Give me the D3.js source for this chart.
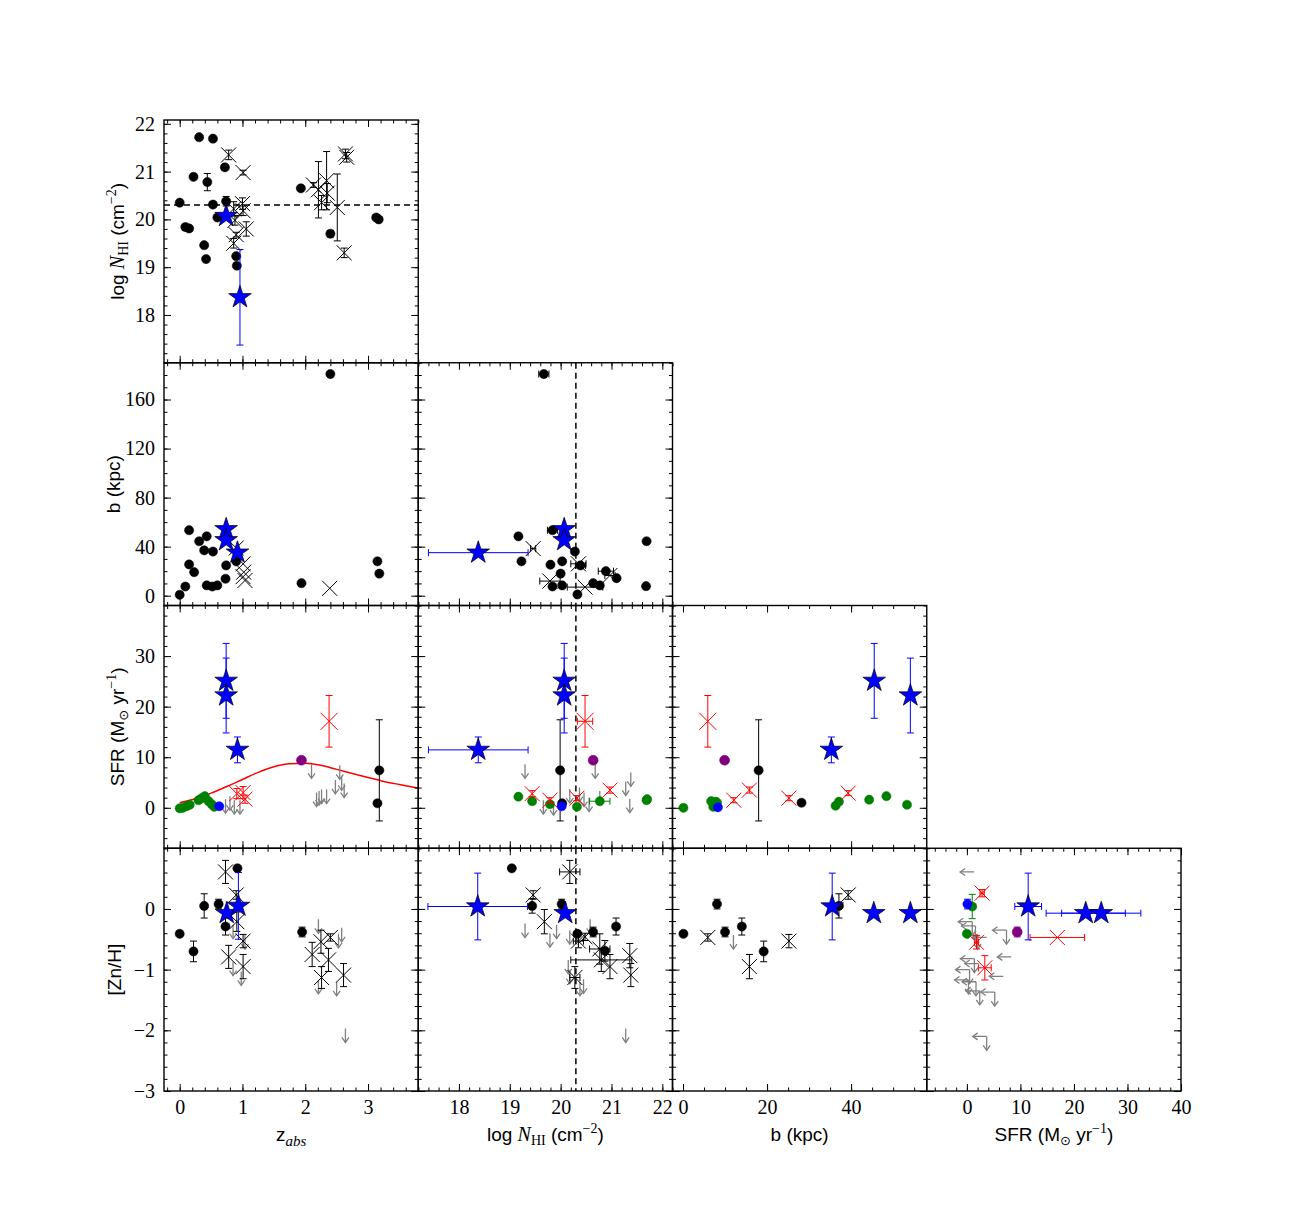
<!DOCTYPE html>
<html>
<head>
<meta charset="utf-8">
<script src="https://cdn.jsdelivr.net/npm/d3@7"></script>
<style>
  body { margin: 0; background: #fff; }
  .lab { font-family: "Liberation Sans", Arial, sans-serif; font-size: 19px; fill: #000; }
</style>
</head>
<body>
<script>
// ---- data ----
// point rows: [kind, x, y, xerr, yerr]
// kinds: k black dot, x black cross, s blue star, g green dot, p purple dot,
//        b blue dot, r red cross, d grey upper limit, l grey left limit, ld both
const pNhiZ = [
  ["k",0.00,20.35],["k",0.09,19.84],["k",0.15,19.81],["k",0.22,20.89],["k",0.31,21.72],
  ["k",0.53,21.69],["k",0.39,19.46],["k",0.42,19.17],["k",0.44,20.78,0,0.18],["k",0.53,20.31],
  ["k",0.60,20.04],["k",0.72,21.09,0,0.05],["k",0.74,20.38,0,0.1],["k",0.90,19.23],["k",0.91,19.03],
  ["k",1.93,20.65],["k",2.40,19.70,0,0.07],["k",3.13,20.04],["k",3.17,20.00,0,0.05],
  ["x",0.78,21.35,0,0.1],["x",1.01,20.98,0,0.05],["x",0.86,20.22,0,0.15],["x",1.00,20.33,0,0.12],
  ["x",1.01,20.18,0,0.1],["x",1.06,19.80,0,0.15],["x",0.88,19.98,0,0.1],["x",0.90,19.68,0,0.05],
  ["x",0.86,19.50,0,0.1],["x",2.13,20.72,0,0.05],["x",2.21,20.62,0,0.59],["x",2.26,20.35,0,0.15],
  ["x",2.34,20.81,0,0.61],["x",2.35,20.55,0,0.2],["x",2.51,20.25,0,0.7],["x",2.64,21.37,0,0.1],
  ["x",2.66,21.30,0,0.1],["x",2.62,19.30,0,0.1],
  ["s",0.74,20.07],["s",0.96,18.37,0,1.0]
];
const pBZ = [
  ["k",0.00,0.7],["k",0.09,7.5],["k",0.15,53.4],["k",0.15,25.5],["k",0.23,19.2],["k",0.31,44.4],
  ["k",0.39,37],["k",0.43,48.4],["k",0.43,8.4],["k",0.52,7.5],["k",0.60,8.4],["k",0.53,36],
  ["k",0.73,13.8],["k",0.74,24.7],["k",0.90,28],["k",2.40,180.8],["k",1.94,10.2],["k",3.15,28],["k",3.18,18],
  ["x",0.90,38.9],["x",1.01,26],["x",1.02,19.2],["x",1.01,15.5],["x",1.04,12.4],["x",2.39,6],
  ["s",0.74,54.2],["s",0.74,45.2],["s",0.92,35.1]
];
const pBNhi = [
  ["k",19.67,180.8,0.1,0],["k",19.17,48.4],["k",19.23,28],["k",19.84,53.4,0.1,0],["k",19.80,25.3],
  ["k",20.03,28],["k",20.00,18],["k",19.84,7.5],["k",20.03,8.4],["k",20.28,36],["k",20.33,1],
  ["k",20.39,24.7,0.1,0],["k",20.64,10.2],["k",20.77,8.4],["k",20.89,20,0.15,0],["k",21.10,14.3],
  ["k",21.69,44.4],["k",21.68,7.8],
  ["x",19.46,38.4,0.05,0],["x",20.35,26,0.15,0],["x",19.79,11.9,0.2,0],["x",20.48,7,0.35,0],["x",20.97,16.5,0.1,0],
  ["s",20.07,54.2],["s",20.07,45.2],["s",18.38,35.1,0.98,0]
];
const pSfrZ = [
  ["d",0.73,1.7],["d",0.80,2.3],["d",0.87,1.5],["d",0.96,1.5],["d",2.10,8.6],["d",2.18,3.0],
  ["d",2.22,3.3],["d",2.26,3.6],["d",2.34,3.6],["d",2.48,5.5],["d",2.55,8.4],["d",2.58,6.2],["d",2.62,4.8],
  ["g",0.00,-0.1],["g",0.05,0.0],["g",0.11,0.3],["g",0.16,0.6],["g",0.30,1.5],["g",0.35,1.9],
  ["g",0.40,2.3],["g",0.46,1.3],["g",0.51,0.7],["g",0.55,0.2],
  ["b",0.63,0.3],
  ["k",3.18,7.4,0,10],["k",3.15,0.9],
  ["r",0.91,2.8,0,1],["r",1.01,3.0,0,1.2],["r",1.04,1.7,0,0.8],["r",2.38,17.1,0,5.1],
  ["p",1.94,9.4],
  ["s",0.74,25.1,0,7.4],["s",0.74,22.2,0,7.4],["s",0.92,11.45,0,2.55]
];
const sfrCurveZ   = [0.0, 0.25, 0.5, 0.75, 1.0, 1.25, 1.5, 1.75, 2.0, 2.25, 2.5, 2.75, 3.0, 3.25, 3.5, 3.8];
const sfrCurveVal = [1.0, 1.8, 2.9, 4.2, 5.6, 7.0, 8.1, 8.7, 8.8, 8.4, 7.6, 6.8, 6.0, 5.2, 4.6, 3.9];
const pSfrNhi = [
  ["d",19.30,8.6],["d",19.66,1.5],["d",19.86,1.3],["d",20.18,3.7],["d",20.37,4.0],["d",20.46,3.0],
  ["d",20.56,2.0],["d",20.68,8.6],["d",20.77,3.3],["d",21.28,5.2],["d",21.38,7.0],["d",21.36,1.8],
  ["g",19.17,2.2],["g",19.44,1.3],["g",19.79,0.7],["g",20.32,0.2],["g",20.77,1.3,0.2,0],["g",21.69,1.5],["g",21.70,1.7],
  ["b",20.02,0.3],
  ["k",19.99,7.4,0.05,10],["k",20.03,0.9],
  ["r",19.44,2.8,0,0.6],["r",19.79,1.5,0,0.5],["r",20.32,1.9,0,0.5],["r",20.97,3.5,0,0.6],["r",20.48,17.1,0.15,5.1],
  ["p",20.64,9.4],
  ["s",20.07,25.1,0,7.4],["s",20.07,22.2,0,7.4],["s",18.38,11.45,0.98,2.55]
];
const pSfrB = [
  ["g",0.1,0.0],["g",6.7,1.3],["g",7.2,0.2],["g",7.8,1.2],["g",8.1,1.0],["g",36.3,0.4],
  ["g",37.1,1.2],["g",44.3,1.6],["g",48.4,2.3],["g",53.3,0.6],
  ["b",8.3,0.1],
  ["k",18.0,7.4,0,10],["k",28.2,1.0],
  ["r",12.1,1.5,0,0.5],["r",15.8,3.5,0,0.6],["r",25.2,1.9,0,0.5],["r",39.3,2.9,0,0.5],["r",5.9,17.1,0,5.1],
  ["p",9.9,9.4],
  ["s",45.5,25.1,0,7.4],["s",54.1,22.2,0,7.4],["s",35.3,11.45,0,2.55]
];
const pZnZ = [
  ["d",0.85,-0.26],["d",0.85,-0.87],["d",0.98,-1.03],["d",1.04,-0.43],["d",2.21,-0.17],["d",2.21,-1.17],
  ["d",2.53,-0.41],["d",2.58,-0.31],["d",2.50,-1.2],["d",2.64,-1.97],
  ["k",0.00,-0.41],["k",0.22,-0.70,0,0.17],["k",0.39,0.05,0,0.2],["k",0.62,0.08,0,0.08],
  ["k",0.73,-0.29,0,0.14],["k",0.92,0.67],["k",1.95,-0.38,0,0.08],
  ["x",0.73,0.61,0,0.19],["x",0.90,0.23,0,0.07],["x",0.91,-0.21,0,0.16],["x",0.78,-0.79,0,0.19],
  ["x",1.01,-0.53,0,0.11],["x",1.01,-0.95,0,0.2],["x",2.11,-0.75,0,0.2],["x",2.25,-0.54,0,0.19],
  ["x",2.40,-0.47,0,0.06],["x",2.37,-0.84,0,0.19],["x",2.26,-1.13,0,0.18],["x",2.61,-1.09,0,0.19],
  ["s",0.75,-0.07],["s",0.935,0.05,0,0.55]
];
const pZnNhi = [
  ["d",19.30,-0.24],["d",19.79,-0.40],["d",19.92,-0.26],["d",20.18,-0.35],["d",20.15,-0.84],
  ["d",20.18,-1.0],["d",20.38,-1.2],["d",20.45,-1.16],["d",20.58,-0.17],["d",21.28,-1.97],
  ["k",19.04,0.67],["k",19.44,0.05,0,0.12],["k",20.02,0.08,0,0.08],["k",20.33,-0.41],
  ["k",20.64,-0.38,0,0.08],["k",20.87,-0.69,0,0.17],["k",21.09,-0.29,0,0.14],
  ["x",20.18,0.61,0.2,0.19],["x",19.46,0.23,0,0.07],["x",19.68,-0.21,0,0.2],["x",20.35,-0.53,0.1,0.11],
  ["x",20.48,-0.46,0,0.06],["x",20.77,-0.66,0.2,0.25],["x",20.80,-0.84,0.6,0.19],["x",20.97,-0.95,0,0.2],
  ["x",21.36,-0.77,0,0.2],["x",21.38,-1.09,0,0.19],["x",20.28,-1.13,0.1,0.18],
  ["s",18.37,0.04,0.98,0.55],["s",20.09,-0.07]
];
const pZnB = [
  ["d",12.0,-0.43],
  ["k",0.1,-0.41],["k",8.1,0.08,0,0.08],["k",10.0,-0.38,0,0.08],["k",14.0,-0.29,0,0.14],
  ["k",19.2,-0.70,0,0.17],["k",37.1,0.05,0,0.2],
  ["x",5.9,-0.47,0,0.06],["x",15.8,-0.95,0,0.2],["x",25.2,-0.53,0,0.11],["x",39.3,0.23,0,0.07],
  ["s",35.5,0.04,0,0.55],["s",45.4,-0.07],["s",54.1,-0.07]
];
const pZnSfr = [
  ["l",1.35,0.61],["ld",1.0,-0.21],["ld",1.6,-0.28],["ld",2.0,-0.43],["l",3.7,-0.47],["ld",7.4,-0.35],
  ["l",8.3,-0.79],["ld",1.4,-0.82],["l",2.2,-0.9],["ld",0.5,-1.0],["ld",0.3,-1.17],["ld",1.7,-1.2],
  ["ld",2.4,-1.35],["ld",5.2,-1.37],["l",6.8,-1.11],["ld",3.7,-2.1],
  ["g",1.0,0.04,0,0.2],["g",0.0,-0.41],
  ["b",0.1,0.08,0,0.08],
  ["r",2.85,0.26,0.4,0.06],["r",1.8,-0.55,0.4,0.11],["r",3.35,-0.97,1.2,0.2],["r",16.9,-0.47,5.1,0],
  ["p",9.4,-0.38,0,0.08],
  ["s",11.45,0.04,2.5,0.55],["s",22.2,-0.07,7.4,0],["s",25.1,-0.07,7.4,0]
];

// axes
const xDomains = [[-0.25, 3.8], [17.2, 22.2], [-2.5, 58], [-7.5, 40]];
const yDomains = [[17, 22.08], [-8, 190], [-8, 40], [-3, 1]];
const xMajor = [[0, 1, 2, 3], [18, 19, 20, 21, 22], [0, 20, 40], [0, 10, 20, 30, 40]];
const yMajor = [[18, 19, 20, 21, 22], [0, 40, 80, 120, 160], [0, 10, 20, 30], [-3, -2, -1, 0]];
const xMinorStep = [0.2, 0.2, 5, 2];
const yMinorStep = [0.2, 10, 2, 0.2];
const dlaLimit = 20.3;

// ---- layout ----
const width = 1312, height = 1212;
const colEdges = [164, 418.25, 672.5, 926.75, 1181];
const rowEdges = [120, 362.75, 605.5, 848.25, 1091];
const yLabelX = [117, 113, 117, 114];
const xLabelY = 1141;
const tickFont = '"Liberation Serif", "DejaVu Serif", serif';

const colorOf = { k: "#000", x: "#000", s: "#0000ff", g: "#008000", p: "#800080",
                  b: "#0000ff", r: "#ff0000", d: "#808080", l: "#808080", ld: "#808080" };
const drawOrder = ["d", "l", "ld", "g", "k", "x", "r", "p", "b", "s"];

const svg = d3.select("body").append("svg")
  .attr("width", width).attr("height", height)
  .style("display", "block");

const xScales = xDomains.map((d, i) => d3.scaleLinear().domain(d).range([colEdges[i], colEdges[i + 1]]));
const yScales = yDomains.map((d, i) => d3.scaleLinear().domain(d).range([rowEdges[i + 1], rowEdges[i]]));

function minorTicks(domain, step) {
  const lo = Math.ceil(domain[0] / step - 1e-9), hi = Math.floor(domain[1] / step + 1e-9);
  return d3.range(lo, hi + 1).map(k => +(k * step).toFixed(6));
}

const panels = [
  { row: 0, col: 0, pts: pNhiZ, hline: dlaLimit },
  { row: 1, col: 0, pts: pBZ },
  { row: 1, col: 1, pts: pBNhi, vline: dlaLimit },
  { row: 2, col: 0, pts: pSfrZ, curve: true },
  { row: 2, col: 1, pts: pSfrNhi, vline: dlaLimit },
  { row: 2, col: 2, pts: pSfrB },
  { row: 3, col: 0, pts: pZnZ },
  { row: 3, col: 1, pts: pZnNhi, vline: dlaLimit },
  { row: 3, col: 2, pts: pZnB },
  { row: 3, col: 3, pts: pZnSfr }
];

const fmt = d3.format("d");

function errBar(g, x1, y1, x2, y2, color, horiz) {
  const cap = 3.5;
  g.append("line").attr("x1", x1).attr("y1", y1).attr("x2", x2).attr("y2", y2)
    .attr("stroke", color).attr("stroke-width", 1);
  [[x1, y1], [x2, y2]].forEach(([cx, cy]) => {
    g.append("line")
      .attr("x1", horiz ? cx : cx - cap).attr("x2", horiz ? cx : cx + cap)
      .attr("y1", horiz ? cy - cap : cy).attr("y2", horiz ? cy + cap : cy)
      .attr("stroke", color).attr("stroke-width", 1);
  });
}

function arrow(g, x, y, dx, dy, color) {
  const L = 14, h = 5, w = 3.5;
  const tx = x + dx * L, ty = y + dy * L;
  g.append("line").attr("x1", x).attr("y1", y).attr("x2", tx).attr("y2", ty)
    .attr("stroke", color).attr("stroke-width", 1.3);
  const bx = tx - dx * h, by = ty - dy * h;
  g.append("path")
    .attr("d", `M${bx + dy * w},${by + dx * w}L${tx},${ty}L${bx - dy * w},${by - dx * w}`)
    .attr("fill", "none").attr("stroke", color).attr("stroke-width", 1.3);
}

panels.forEach((p, pi) => {
  const xs = xScales[p.col], ys = yScales[p.row];
  const [left, right] = xs.range();
  const [bottom, top] = ys.range();

  const clipId = "clip" + pi;
  svg.append("clipPath").attr("id", clipId).append("rect")
    .attr("x", left).attr("y", top).attr("width", right - left).attr("height", bottom - top);

  const g = svg.append("g").attr("clip-path", `url(#${clipId})`);

  if (p.hline !== undefined) {
    g.append("line").attr("x1", left).attr("x2", right)
      .attr("y1", ys(p.hline)).attr("y2", ys(p.hline))
      .attr("stroke", "#000").attr("stroke-width", 1.5).attr("stroke-dasharray", "6,4");
  }
  if (p.vline !== undefined) {
    g.append("line").attr("y1", top).attr("y2", bottom)
      .attr("x1", xs(p.vline)).attr("x2", xs(p.vline))
      .attr("stroke", "#000").attr("stroke-width", 1.5).attr("stroke-dasharray", "6,4");
  }
  if (p.curve) {
    const line = d3.line().x(d => xs(d[0])).y(d => ys(d[1])).curve(d3.curveMonotoneX);
    g.append("path").datum(sfrCurveZ.map((z, i) => [z, sfrCurveVal[i]]))
      .attr("d", line).attr("fill", "none").attr("stroke", "#ff0000").attr("stroke-width", 1.5);
  }

  const pts = p.pts.slice().sort((a, b) => drawOrder.indexOf(a[0]) - drawOrder.indexOf(b[0]));
  pts.forEach(([kind, vx, vy, ex = 0, ey = 0]) => {
    const cx = xs(vx), cy = ys(vy), col = colorOf[kind];
    if (ex > 0) errBar(g, xs(vx - ex), cy, xs(vx + ex), cy, col, true);
    if (ey > 0) errBar(g, cx, ys(vy - ey), cx, ys(vy + ey), col, false);
    if (kind === "d") arrow(g, cx, cy, 0, 1, col);
    else if (kind === "l") arrow(g, cx, cy, -1, 0, col);
    else if (kind === "ld") { arrow(g, cx, cy, -1, 0, col); arrow(g, cx, cy, 0, 1, col); }
    else if (kind === "x" || kind === "r") {
      const s = kind === "r" && ey > 3 ? 8.5 : 7.5;
      g.append("path")
        .attr("d", `M${cx - s},${cy - s}L${cx + s},${cy + s}M${cx - s},${cy + s}L${cx + s},${cy - s}`)
        .attr("stroke", col).attr("stroke-width", 1).attr("fill", "none");
    } else if (kind === "s") {
      g.append("path").attr("d", d3.symbol(d3.symbolStar, 160)())
        .attr("transform", `translate(${cx},${cy})`)
        .attr("fill", col).attr("stroke", "#000").attr("stroke-width", 0.7);
    } else {
      g.append("circle").attr("cx", cx).attr("cy", cy).attr("r", kind === "p" ? 5 : 4.6)
        .attr("fill", col).attr("stroke", col).attr("stroke-width", 0.5);
    }
  });

  // ticks on all four sides, pointing in
  const ax = svg.append("g");
  const showX = p.row === 3, showY = p.col === 0;
  const xMin = minorTicks(xs.domain(), xMinorStep[p.col]);
  const yMin = minorTicks(ys.domain(), yMinorStep[p.row]);
  const axes = [
    [d3.axisBottom, xs, `translate(0,${bottom})`, xMajor[p.col], xMin, showX],
    [d3.axisTop, xs, `translate(0,${top})`, xMajor[p.col], xMin, false],
    [d3.axisLeft, ys, `translate(${left},0)`, yMajor[p.row], yMin, showY],
    [d3.axisRight, ys, `translate(${right},0)`, yMajor[p.row], yMin, false]
  ];
  axes.forEach(([makeAxis, sc, tr, major, minor, labels]) => {
    ax.append("g").attr("transform", tr)
      .call(makeAxis(sc).tickValues(minor).tickSize(-3.5).tickFormat(""))
      .call(s => s.select(".domain").remove());
    ax.append("g").attr("transform", tr)
      .call(makeAxis(sc).tickValues(major).tickSize(-7).tickPadding(9).tickFormat(labels ? fmt : ""))
      .call(s => s.select(".domain").remove())
      .selectAll("text")
      .style("font-family", tickFont).style("font-size", "20px").attr("fill", "#000");
  });

  ax.append("rect").attr("x", left).attr("y", top)
    .attr("width", right - left).attr("height", bottom - top)
    .attr("fill", "none").attr("stroke", "#000").attr("stroke-width", 1.4);
});

// ---- axis labels with math parts ----
const fontOf = {
  sans: { f: '"Liberation Sans", Arial, sans-serif', s: 19, st: "normal" },
  it:   { f: '"Liberation Serif", "DejaVu Serif", serif', s: 20, st: "italic" },
  rm:   { f: '"Liberation Serif", "DejaVu Serif", serif', s: 14, st: "normal" },
  its:  { f: '"Liberation Serif", "DejaVu Serif", serif', s: 15, st: "italic" },
  sym:  { f: '"DejaVu Sans", sans-serif', s: 13, st: "normal" }
};
function mathText(sel, parts) {
  let cur = 0;
  parts.forEach(([t, font, shift = 0]) => {
    const fo = fontOf[font];
    sel.append("tspan").text(t)
      .attr("dy", shift - cur)
      .style("font-family", fo.f).style("font-size", fo.s + "px").style("font-style", fo.st);
    cur = shift;
  });
}
const labelNhi = [["log ", "sans"], ["N", "it"], ["HI", "rm", 4], [" (cm", "sans"], ["\u22122", "rm", -8], [")", "sans"]];
const labelB = [["b (kpc)", "sans"]];
const labelSfr = [["SFR (M", "sans"], ["\u2299", "sym", 4], [" yr", "sans"], ["\u22121", "rm", -8], [")", "sans"]];
const labelZn = [["[Zn/H]", "sans"]];
const labelZ = [["z", "sans"], ["abs", "its", 5]];

const xLabels = [labelZ, labelNhi, labelB, labelSfr];
const yLabels = [labelNhi, labelB, labelSfr, labelZn];

xLabels.forEach((parts, i) => {
  const t = svg.append("text").attr("class", "lab")
    .attr("x", (colEdges[i] + colEdges[i + 1]) / 2).attr("y", xLabelY)
    .attr("text-anchor", "middle");
  mathText(t, parts);
});
yLabels.forEach((parts, i) => {
  const cy = (rowEdges[i] + rowEdges[i + 1]) / 2;
  const t = svg.append("text").attr("class", "lab")
    .attr("transform", `translate(${yLabelX[i] + 7},${cy}) rotate(-90)`)
    .attr("text-anchor", "middle");
  mathText(t, parts);
});
</script>
</body>
</html>
